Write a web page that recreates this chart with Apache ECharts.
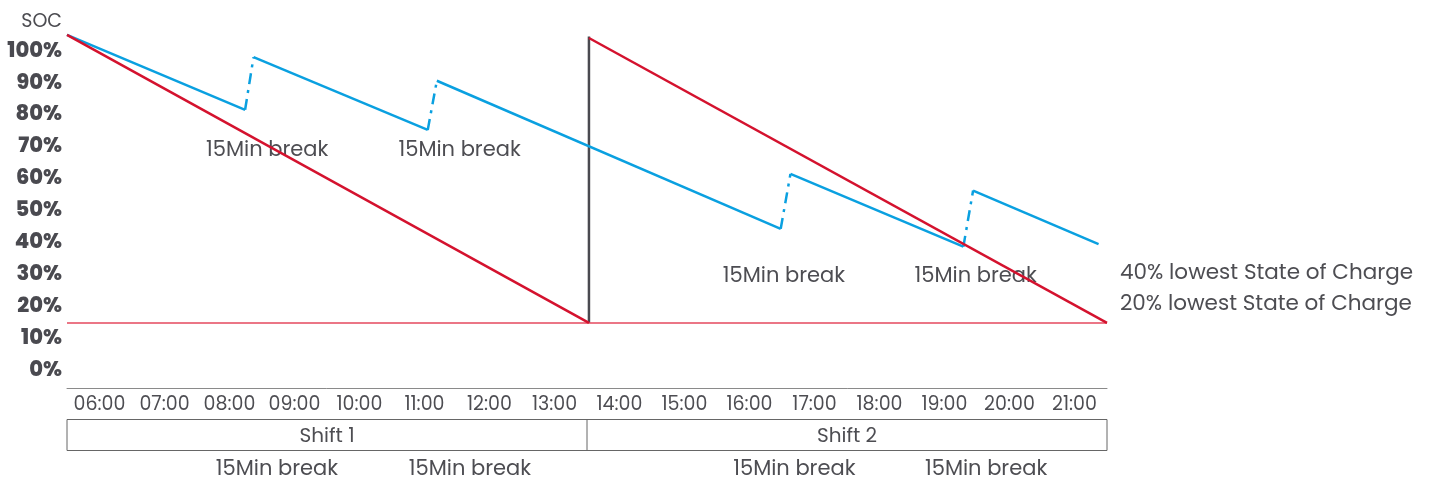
<!DOCTYPE html>
<html><head><meta charset="utf-8">
<script src="https://cdn.jsdelivr.net/npm/echarts/dist/echarts.min.js"></script>
<style>html,body{margin:0;padding:0;background:#fff}#c{width:1430px;height:480px}</style>
</head><body><div id="c"></div><script>
// ---- data ----
const hours = ['06:00','07:00','08:00','09:00','10:00','11:00','12:00','13:00','14:00','15:00','16:00','17:00','18:00','19:00','20:00','21:00'];
const yTicks = [0,10,20,30,40,50,60,70,80,90,100];
// x = hours since start of shift 1 (0 = 05:30), y = SOC %
const blueRuns = [
  [[0,105.2],[2.74,81.7]],
  [[2.87,98.2],[5.55,75.4]],
  [[5.69,90.8],[10.98,44.4]],
  [[11.13,61.6],[13.79,38.8]],
  [[13.94,56.4],[15.87,39.6]]
];
const redRuns = [
  [[0,105.2],[8.03,14.9]],
  [[8.03,104.2],[16,14.9]]
];
const shiftChange = [[8.03,14.9],[8.03,104.7]];
const minSoc = 14.9;
const shifts = ['Shift 1','Shift 2'];
const shiftBounds = [0,8,16];
const breakLabelsChart = [[3.08,68.8],[6.04,68.8],[11.03,29.3],[13.98,29.3]];
const breakLabelsBelow = [3.23,6.2,11.19,14.14];
const breakText = '15Min break';
const rightLabels = ['40% lowest State of Charge','20% lowest State of Charge'];
const yName = 'SOC';

const FONT = 'Poppins, "Noto Sans", sans-serif';
const BLUE = '#0aa0e0', RED = '#d4122e', GRAY = '#4a4a50', TXT = '#4d4d52';

const chart = echarts.init(document.getElementById('c'));
const series = [];
blueRuns.forEach((run,i) => {
  series.push({type:'line', xAxisIndex:1, yAxisIndex:0, data:run, symbol:'none', lineStyle:{color:BLUE,width:2.5}, z:2, animation:false});
  if (i < blueRuns.length-1) {
    series.push({type:'line', xAxisIndex:1, yAxisIndex:0, data:[run[run.length-1], blueRuns[i+1][0]], symbol:'none',
      lineStyle:{color:BLUE,width:2.5,type:[11,6,3,6]}, z:2, animation:false});
  }
});
series.push({type:'line', xAxisIndex:1, yAxisIndex:0, data:shiftChange, symbol:'none', lineStyle:{color:GRAY,width:2.5}, z:1, animation:false});
redRuns.forEach(run => {
  series.push({type:'line', xAxisIndex:1, yAxisIndex:0, data:run, symbol:'none', lineStyle:{color:RED,width:2.5}, z:3, animation:false});
});
series.push({type:'line', xAxisIndex:1, yAxisIndex:0, data:[[0,minSoc],[16,minSoc]], symbol:'none', lineStyle:{color:'#e4485e',width:1.5}, z:1, animation:false});

chart.setOption({
  animation:false,
  grid:[
    {left:67, right:323, top:19.5, bottom:109.5},
    {left:67, right:323, top:387, height:1}
  ],
  xAxis:[
    {type:'category', gridIndex:1, data:hours, boundaryGap:true,
     axisLine:{lineStyle:{color:'#8a8a8a',width:1}}, axisTick:{show:false},
     axisLabel:{color:TXT, fontSize:19, fontFamily:FONT, margin:8, interval:0}},
    {type:'value', gridIndex:0, min:0, max:16, show:false}
  ],
  yAxis:[
    {type:'value', gridIndex:0, min:0, max:110, interval:10,
    axisLine:{show:false}, axisTick:{show:false}, splitLine:{show:false},
    axisLabel:{color:GRAY, fontSize:21, fontWeight:800, fontFamily:FONT, margin:5,
      formatter:v => yTicks.indexOf(v) >= 0 ? v + '%' : ''}},
    {type:'value', gridIndex:1, show:false}
  ],
  series
});

// annotations
const px = x => chart.convertToPixel({xAxisIndex:1}, x);
const pt = p => chart.convertToPixel({xAxisIndex:1, yAxisIndex:0}, p);
const boxTop = 419.5, boxBot = 450.5;
const g = [];
g.push({type:'text', x:62, y:22, style:{text:yName, fill:TXT, fontSize:19, fontFamily:FONT, align:'right', verticalAlign:'middle'}});
g.push({type:'rect', shape:{x:px(0), y:boxTop, width:px(16)-px(0), height:boxBot-boxTop},
  style:{fill:'none', stroke:'#666', lineWidth:1}});
g.push({type:'line', shape:{x1:px(8), y1:boxTop, x2:px(8), y2:boxBot}, style:{stroke:'#666', lineWidth:1}});
shifts.forEach((s,i) => {
  g.push({type:'text', x:(px(shiftBounds[i])+px(shiftBounds[i+1]))/2, y:(boxTop+boxBot)/2 + 2,
    style:{text:s, fill:TXT, fontSize:20, fontFamily:FONT, align:'center', verticalAlign:'middle'}});
});
breakLabelsChart.forEach(p => {
  const q = pt(p);
  g.push({type:'text', x:q[0], y:q[1], style:{text:breakText, fill:TXT, fontSize:21, fontFamily:FONT, align:'center', verticalAlign:'middle'}});
});
breakLabelsBelow.forEach(x => {
  g.push({type:'text', x:px(x), y:470, style:{text:breakText, fill:TXT, fontSize:21, fontFamily:FONT, align:'center', verticalAlign:'middle'}});
});
rightLabels.forEach((t,i) => {
  g.push({type:'text', x:1120, y:274 + i*31, style:{text:t, fill:TXT, fontSize:21.5, fontFamily:FONT, align:'left', verticalAlign:'middle'}});
});
chart.setOption({graphic:{elements:g, z:0}});
</script></body></html>
